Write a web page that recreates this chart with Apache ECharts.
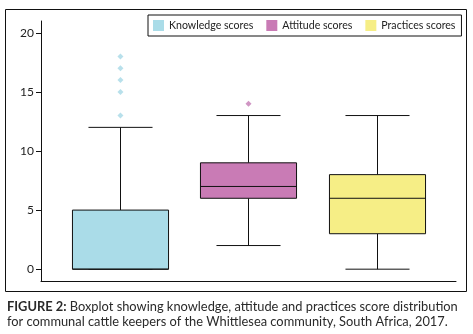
<!DOCTYPE html>
<html>
<head>
<meta charset="utf-8">
<script src="https://cdn.jsdelivr.net/npm/echarts@6/dist/echarts.min.js"></script>
<style>
  html, body { margin: 0; padding: 0; background: #fff; }
  #chart { width: 473px; height: 334px; }
</style>
</head>
<body>
<div id="chart"></div>
<script>
  // groups, one box each
  const categories = ['Knowledge scores', 'Attitude scores', 'Practices scores']
  const colors = ['#AADCE8', '#C97BB5', '#F6EE86']
  const outlierColors = ['#A6D8E6', '#C47AB4', '#F6EE86']

  // five-number summaries
  const lowWhisker = [0, 2, 0]
  const q1 = [0, 6, 3]
  const median = [0, 7, 6]
  const q3 = [5, 9, 8]
  const highWhisker = [12, 13, 13]

  // outliers per group
  const outliers = [
    [13, 15, 16, 17, 18],
    [14],
    []
  ]

  const yTicks = [0, 5, 10, 15, 20]

  const FONT = 'Lato'

  let chart = echarts.init(document.getElementById('chart'))

  function renderBox(params, api) {
    let x = api.value(0)
    let band = api.size([1, 0])[0]
    let half = band * 0.375
    let capHalf = band * 0.25
    let pLow = api.coord([x, api.value(1)])
    let pQ1 = api.coord([x, api.value(2)])
    let pMed = api.coord([x, api.value(3)])
    let pQ3 = api.coord([x, api.value(4)])
    let pHigh = api.coord([x, api.value(5)])
    let cx = Math.round(pLow[0]) + 0.5
    let lineStyle = { stroke: '#111', lineWidth: 1, fill: null }
    return {
      type: 'group',
      children: [
        { type: 'line', shape: { x1: cx, y1: pHigh[1], x2: cx, y2: pQ3[1] }, style: lineStyle },
        { type: 'line', shape: { x1: cx, y1: pLow[1], x2: cx, y2: pQ1[1] }, style: lineStyle },
        { type: 'line', shape: { x1: cx - capHalf, y1: pHigh[1], x2: cx + capHalf, y2: pHigh[1] }, style: lineStyle },
        { type: 'line', shape: { x1: cx - capHalf, y1: pLow[1], x2: cx + capHalf, y2: pLow[1] }, style: lineStyle },
        {
          type: 'rect',
          shape: { x: cx - half, y: pQ3[1], width: half * 2, height: pQ1[1] - pQ3[1] },
          style: { fill: api.visual('color'), stroke: '#111', lineWidth: 1 }
        },
        { type: 'line', shape: { x1: cx - half, y1: pMed[1], x2: cx + half, y2: pMed[1] }, style: lineStyle }
      ]
    }
  }

  let series = categories.map((name, i) => ({
    name: name,
    type: 'custom',
    renderItem: renderBox,
    itemStyle: { color: colors[i] },
    encode: { x: 0, y: [1, 2, 3, 4, 5] },
    data: [[i, lowWhisker[i], q1[i], median[i], q3[i], highWhisker[i]]],
    z: 2
  }))

  categories.forEach((name, i) => {
    if (!outliers[i].length) return
    series.push({
      name: name,
      type: 'scatter',
      symbol: 'diamond',
      symbolSize: 6,
      itemStyle: { color: outlierColors[i] },
      data: outliers[i].map(v => [i, v]),
      z: 3
    })
  })

  let option = {
    animation: false,
    textStyle: { fontFamily: FONT },
    grid: { left: 41, right: 17, top: 21, bottom: 53 },
    legend: {
      left: 148,
      top: 15,
      padding: [5, 6, 5, 5],
      itemWidth: 11,
      itemHeight: 11,
      itemGap: 13,
      icon: 'rect',
      borderColor: '#111',
      borderWidth: 1,
      borderRadius: 0,
      textStyle: { fontFamily: FONT, fontSize: 10.6, color: '#222' },
      data: categories.map((name, i) => ({ name: name, itemStyle: { color: colors[i] } }))
    },
    xAxis: {
      type: 'value',
      min: -0.62,
      max: 2.62,
      splitLine: { show: false },
      axisTick: { show: false },
      axisLabel: { show: false },
      axisLine: { show: true, onZero: false, lineStyle: { color: '#111', width: 1 } }
    },
    yAxis: {
      type: 'value',
      min: -1,
      max: 21,
      splitLine: { show: false },
      axisLine: { show: true, onZero: false, lineStyle: { color: '#111', width: 1 } },
      axisTick: { show: true, length: 5, customValues: yTicks, lineStyle: { color: '#111' } },
      axisLabel: { customValues: yTicks, margin: 7, fontFamily: FONT, fontSize: 12, color: '#222' }
    },
    graphic: [
      {
        type: 'rect',
        shape: { x: 5.5, y: 9.5, width: 461, height: 282 },
        style: { fill: null, stroke: '#111', lineWidth: 1 },
        silent: true
      },
      {
        type: 'text',
        left: 7,
        top: 299,
        style: {
          text: '{b|FIGURE 2:} Boxplot showing knowledge, attitude and practices score distribution\nfor communal cattle keepers of the Whittlesea community, South Africa, 2017.',
          fontFamily: FONT,
          fontSize: 12.85,
          lineHeight: 15,
          fill: '#2a2a2a',
          rich: {
            b: { fontFamily: FONT, fontSize: 12.85, fontWeight: 'bold', fill: '#2a2a2a' }
          }
        }
      }
    ],
    series: series
  }

  chart.setOption(option)
</script>
</body>
</html>
